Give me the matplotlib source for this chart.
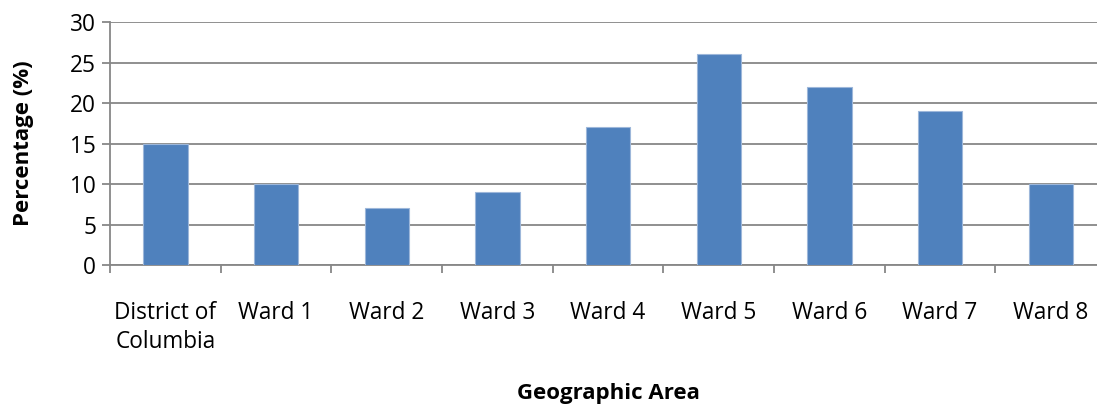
import numpy as np
import matplotlib.pyplot as plt
from matplotlib.ticker import FixedLocator

areas = ["District of\nColumbia", "Ward 1", "Ward 2", "Ward 3", "Ward 4",
         "Ward 5", "Ward 6", "Ward 7", "Ward 8"]
percent = [15, 10, 7, 9, 17, 26, 22, 19, 10]
yticks = [0, 5, 10, 15, 20, 25, 30]

plt.rcParams['font.family'] = ['Open Sans', 'DejaVu Sans']

fig = plt.figure(figsize=(10.97, 4.04), dpi=100)
ax = fig.add_axes([0.1003, 0.344, 0.908, 0.6015])

x = np.arange(len(areas))
ax.bar(x, percent, width=0.4, color="#4F81BD", edgecolor="#9DB7DA",
       linewidth=0.8, zorder=3)

ax.set_xlim(-0.5, len(areas) - 0.5)
ax.set_ylim(0, 30)
ax.set_yticks(yticks)
ax.yaxis.grid(True, color="#878787", linewidth=1.3, zorder=0)

ax.set_xticks(x)
ax.set_xticklabels(areas, fontsize=16.3, linespacing=1.25)
ax.xaxis.set_minor_locator(FixedLocator(np.arange(-0.5, len(areas), 1.0)))
ax.tick_params(axis='x', which='major', length=0, pad=26)
ax.tick_params(axis='x', which='minor', length=6, width=1.3, color="#878787",
               direction='out')
ax.tick_params(axis='y', length=6, width=1.3, color="#878787", labelsize=16.3,
               pad=4)

for side in ['top', 'right']:
    ax.spines[side].set_visible(False)
for side in ['left', 'bottom']:
    ax.spines[side].set_color("#878787")
    ax.spines[side].set_linewidth(1.3)

ax.set_ylabel("Percentage (%)", fontsize=16, fontweight='bold', labelpad=26)
ax.set_xlabel("Geographic Area", fontsize=16, fontweight='bold', labelpad=21)

fig.savefig("out.png", dpi=100)
